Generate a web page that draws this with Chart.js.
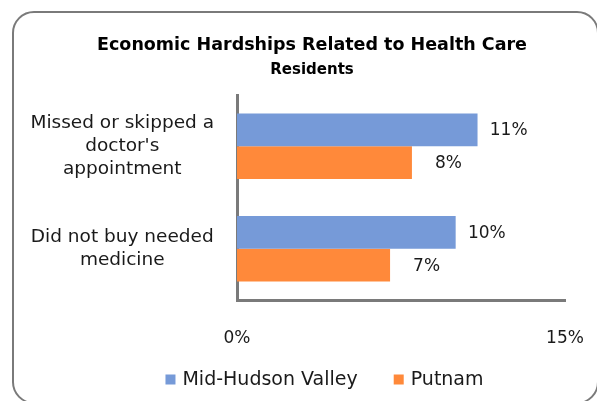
<!DOCTYPE html>
<html>
<head>
<meta charset="utf-8">
<script src="https://cdn.jsdelivr.net/npm/chart.js@4"></script>
<style>
  html, body { margin: 0; padding: 0; width: 597px; height: 401px; overflow: hidden; background: #fff; }
  #frame {
    position: absolute; left: 12px; top: 11px; box-sizing: border-box;
    width: 587px; height: 393px;
    border: 2px solid #7a7a7a; border-radius: 22px;
  }
  #wrap { position: absolute; left: 14px; top: 14px; width: 596px; height: 388px; }
</style>
</head>
<body>
<div id="frame"></div>
<div id="wrap"><canvas id="chart"></canvas></div>
<script>
// Economic hardships chart data
var categories = [
    ["Missed or skipped a", "doctor's", "appointment"],
    ["Did not buy needed", "medicine"]
];
var seriesNames = ["Mid-Hudson Valley", "Putnam"];
var midHudson = [11, 10];
var putnam = [8, 7];
var xTicks = [0, 15];
var colors = ['#769AD8', '#FF893A'];

var FONT = "'DejaVu Sans', sans-serif";

// Percent labels, right aligned a fixed distance past the bar end
var valueLabels = {
    id: 'valueLabels',
    afterDatasetsDraw: function(chart) {
        var ctx = chart.ctx;
        ctx.save();
        ctx.font = '17px ' + FONT;
        ctx.fillStyle = '#1a1a1a';
        ctx.textAlign = 'right';
        ctx.textBaseline = 'middle';
        chart.data.datasets.forEach(function(ds, i) {
            chart.getDatasetMeta(i).data.forEach(function(bar, j) {
                ctx.fillText(ds.data[j] + '%', bar.x + 50, bar.y + 1);
            });
        });
        ctx.restore();
    }
};

// Legend row under the axis: square swatch, then series name
var bottomLegend = {
    id: 'bottomLegend',
    afterDraw: function(chart) {
        var ctx = chart.ctx;
        var sets = chart.data.datasets;
        ctx.save();
        ctx.font = '19px ' + FONT;
        ctx.textBaseline = 'middle';
        ctx.textAlign = 'left';
        var box = 10, gap = 7, spacing = 36;
        var total = 0;
        sets.forEach(function(ds, i) {
            total += box + gap + ctx.measureText(ds.label).width;
            if (i > 0) total += spacing;
        });
        var x = 310.5 - total / 2;
        var y = 366.5;
        sets.forEach(function(ds) {
            ctx.fillStyle = ds.backgroundColor;
            ctx.fillRect(x, y - box / 2 - 1, box, box);
            x += box + gap;
            ctx.fillStyle = '#1a1a1a';
            ctx.fillText(ds.label, x, y);
            x += ctx.measureText(ds.label).width + spacing;
        });
        ctx.restore();
    }
};

new Chart(document.getElementById("chart"), {
    type: 'bar',
    data: {
        labels: categories,
        datasets: [
            { label: seriesNames[0], data: midHudson, backgroundColor: colors[0], categoryPercentage: 0.64, barPercentage: 1 },
            { label: seriesNames[1], data: putnam, backgroundColor: colors[1], categoryPercentage: 0.64, barPercentage: 1 }
        ]
    },
    options: {
        indexAxis: 'y',
        responsive: true,
        maintainAspectRatio: false,
        animation: false,
        layout: { padding: { left: 0, right: 0, top: 0, bottom: 25.6 } },
        plugins: {
            title: {
                display: true,
                text: 'Economic Hardships Related to Health Care',
                color: '#000',
                font: { family: FONT, size: 17.5, weight: 'bold', lineHeight: 1.2 },
                padding: { top: 21, bottom: 2 }
            },
            subtitle: {
                display: true,
                text: 'Residents',
                color: '#000',
                font: { family: FONT, size: 15, weight: 'bold', lineHeight: 1.2 },
                padding: { top: 3, bottom: 16 }
            },
            legend: { display: false },
            tooltip: { enabled: false }
        },
        scales: {
            x: {
                min: xTicks[0],
                max: xTicks[1],
                afterBuildTicks: function(scale) {
                    scale.ticks = xTicks.map(function(v) { return { value: v }; });
                },
                ticks: {
                    color: '#1a1a1a',
                    font: { family: FONT, size: 17 },
                    padding: 28,
                    maxRotation: 0,
                    callback: function(v) { return v + '%'; }
                },
                grid: { display: false, drawTicks: false },
                border: { display: true, color: '#7a7a7a', width: 3 },
                afterFit: function(scale) { scale.paddingRight = 45; }
            },
            y: {
                ticks: {
                    color: '#1a1a1a',
                    font: { family: FONT, size: 18.5, lineHeight: 1.243 },
                    crossAlign: 'center',
                    padding: 23
                },
                grid: { display: false, drawTicks: false },
                border: { display: true, color: '#7a7a7a', width: 3 },
                afterFit: function(scale) {
                    scale.width = 223;
                    scale.paddingTop = 0;
                    scale.paddingBottom = 0;
                }
            }
        }
    },
    plugins: [valueLabels, bottomLegend]
});
</script>
</body>
</html>
